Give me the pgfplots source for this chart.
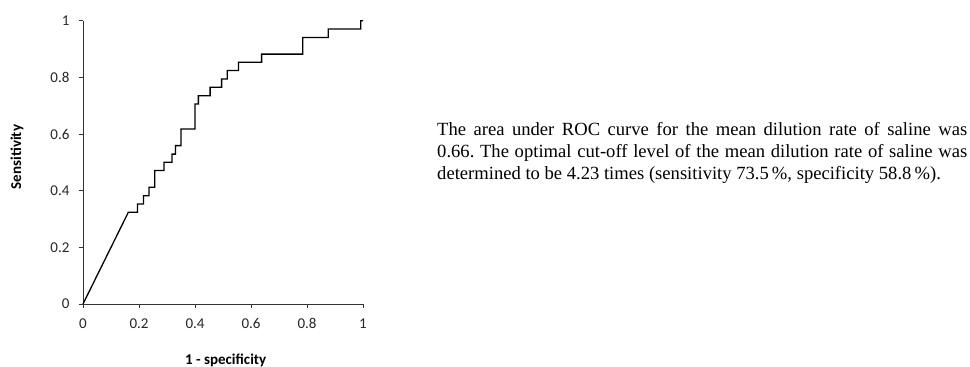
\documentclass[border=0pt]{standalone}
\usepackage{fontspec}
\setmainfont{Carlito}
\newfontfamily\timesfont{Liberation Serif}
\usepackage{pgfplots}
\pgfplotsset{compat=1.18}
\frenchspacing
\begin{document}
\begin{tikzpicture}
\useasboundingbox (0,0) rectangle (970pt,367pt);
\begin{axis}[
  at={(83pt,63pt)}, anchor=origin,
  scale only axis, width=280pt, height=283.3pt,
  xmin=0, xmax=1, ymin=0, ymax=1,
  axis lines=left, axis line style={-, line width=0.8pt, black!80},
  xtick={0,0.2,0.4,0.6,0.8,1}, ytick={0,0.2,0.4,0.6,0.8,1},
  tick align=outside, major tick length=4pt,
  tick style={line width=0.8pt, black!80},
  ticklabel style={font=\fontsize{15}{18}\selectfont, text=black!85},
  yticklabel style={xshift=-6pt},
  xticklabel style={yshift=-7pt},
  /pgf/number format/assume math mode=true,
  clip=false,
]
\addplot[black, line width=1.3pt, line join=miter] coordinates {
(0,0)
(0.162,0.324)
(0.195,0.324)
(0.195,0.353)
(0.216,0.353)
(0.216,0.382)
(0.236,0.382)
(0.236,0.412)
(0.256,0.412)
(0.256,0.471)
(0.289,0.471)
(0.289,0.500)
(0.318,0.500)
(0.318,0.529)
(0.330,0.529)
(0.330,0.559)
(0.350,0.559)
(0.350,0.618)
(0.400,0.618)
(0.400,0.706)
(0.412,0.706)
(0.412,0.735)
(0.454,0.735)
(0.454,0.765)
(0.495,0.765)
(0.495,0.794)
(0.515,0.794)
(0.515,0.824)
(0.555,0.824)
(0.555,0.853)
(0.638,0.853)
(0.638,0.882)
(0.785,0.882)
(0.785,0.941)
(0.876,0.941)
(0.876,0.971)
(0.992,0.971)
(0.992,1)
(1,1)
};
\end{axis}
\node[rotate=90, font=\fontsize{15}{18}\selectfont\bfseries] at (17pt,210pt) {Sensitivity};
\node[font=\fontsize{15}{18}\selectfont\bfseries] at (225.7pt,7pt) {1 - specificity};
\node[anchor=base west, inner sep=0pt] at (437pt,231pt) {\parbox[t]{530pt}{\timesfont\fontsize{18.6}{22}\selectfont
The area under ROC curve for the mean dilution rate of saline was\linebreak 0.66. The optimal cut-off level of the mean dilution rate of saline was\linebreak determined to be 4.23 times (sensitivity 73.5\,\%, specificity 58.8\,\%).}};
\end{tikzpicture}
\end{document}
